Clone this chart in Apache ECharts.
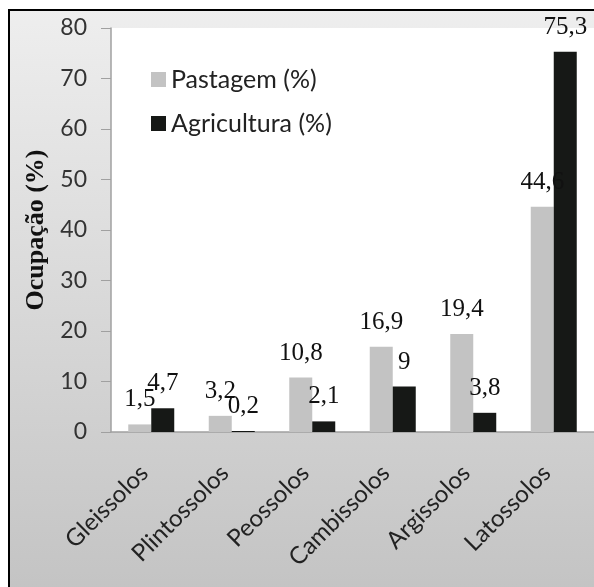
<!DOCTYPE html>
<html>
<head>
<meta charset="utf-8">
<script src="https://cdn.jsdelivr.net/npm/echarts@6/dist/echarts.min.js"></script>
<style>
html,body{margin:0;padding:0;background:#fff;}
#chart{width:594px;height:587px;}
</style>
</head>
<body>
<div id="chart"></div>
<script>
var categories = ['Gleissolos', 'Plintossolos', 'Peossolos', 'Cambissolos', 'Argissolos', 'Latossolos'];
var pastagem = [1.5, 3.2, 10.8, 16.9, 19.4, 44.6];
var agricultura = [4.7, 0.2, 2.1, 9, 3.8, 75.3];
var seriesNames = ['Pastagem (%)', 'Agricultura (%)'];
var yTicks = {min: 0, max: 80, interval: 10};

var chart = echarts.init(document.getElementById('chart'), null, {renderer: 'canvas'});
function fmt(p){ return String(p.value).replace('.', ','); }
var labelCfg = {
  show: true, position: 'top', distance: 12,
  fontFamily: '"Liberation Serif", "Times New Roman", serif', fontSize: 25, color: '#111',
  formatter: fmt
};
chart.setOption({
  animation: false,
  backgroundColor: '#ffffff',
  graphic: [{
    type: 'rect', z: -10, silent: true,
    shape: {x: 9, y: 10, width: 600, height: 600},
    style: {
      fill: new echarts.graphic.LinearGradient(0, 0, 0, 1, [
        {offset: 0, color: '#eeeeee'}, {offset: 1, color: '#c2c2c2'}
      ]),
      stroke: '#000', lineWidth: 2
    }
  }],
  grid: {left: 111, top: 28, width: 484, bottom: 155, show: true, backgroundColor: '#ffffff', borderWidth: 0, containLabel: false},
  legend: {
    orient: 'vertical', left: 146, top: 62, itemWidth: 15, itemHeight: 15, itemGap: 19, itemTextGap: 6,
    icon: 'rect',
    textStyle: {fontFamily: 'Lato, "Open Sans", sans-serif', fontSize: 25, color: '#222'},
    data: seriesNames
  },
  xAxis: {
    type: 'category', data: categories,
    axisLine: {lineStyle: {color: '#a0a0a0', width: 1.5}},
    axisTick: {show: false},
    axisLabel: {rotate: 45, margin: 30, padding: [0, 10, 0, 0], interval: 0, fontFamily: 'Lato, "Open Sans", sans-serif', fontSize: 24, color: '#222'}
  },
  yAxis: {
    type: 'value', min: yTicks.min, max: yTicks.max, interval: yTicks.interval,
    name: 'Ocupação (%)', nameLocation: 'middle', nameGap: 60,
    nameTextStyle: {fontFamily: '"Liberation Serif", "Times New Roman", serif', fontWeight: 'bold', fontSize: 26, color: '#111'},
    axisLine: {show: true, lineStyle: {color: '#a0a0a0', width: 1.5}},
    axisTick: {show: true, length: 10, lineStyle: {color: '#a0a0a0'}},
    splitLine: {show: false},
    axisLabel: {margin: 24, fontFamily: 'Lato, "Open Sans", sans-serif', fontSize: 23, color: '#333'}
  },
  series: [
    {name: seriesNames[0], type: 'bar', data: pastagem, barWidth: 23, barGap: '0%', itemStyle: {color: '#c3c3c3'}, label: labelCfg},
    {name: seriesNames[1], type: 'bar', data: agricultura, barWidth: 23, barGap: '0%', itemStyle: {color: '#161816'}, label: labelCfg}
  ]
});
</script>
</body>
</html>
